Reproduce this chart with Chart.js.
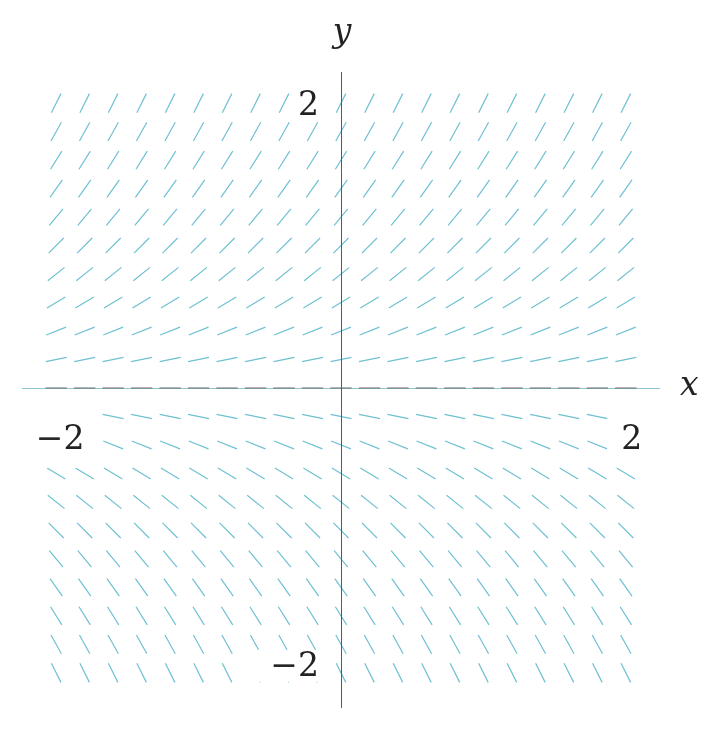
<!DOCTYPE html>
<html>
<head>
<meta charset="utf-8">
<script src="https://cdn.jsdelivr.net/npm/chart.js@4.4.1/dist/chart.umd.min.js"></script>
<style>
  body { margin: 0; background: #fff; }
  #wrap { width: 721px; height: 744px; }
</style>
</head>
<body>
<div id="wrap"><canvas id="field" width="721" height="744"></canvas></div>
<script>
// grid of the slope field
const xGrid = [-2.0, -1.8, -1.6, -1.4, -1.2, -1.0, -0.8, -0.6, -0.4, -0.2, 0.0,
               0.2, 0.4, 0.6, 0.8, 1.0, 1.2, 1.4, 1.6, 1.8, 2.0];
const yGrid = [2.0, 1.8, 1.6, 1.4, 1.2, 1.0, 0.8, 0.6, 0.4, 0.2, 0.0,
               -0.2, -0.4, -0.6, -0.8, -1.0, -1.2, -1.4, -1.6, -1.8, -2.0];
// slope read for each row (same along a row)
const rowSlopes = [2.0, 1.8, 1.6, 1.4, 1.2, 1.0, 0.8, 0.6, 0.4, 0.2, 0.0,
                   -0.2, -0.4, -0.6, -0.8, -1.0, -1.2, -1.4, -1.6, -1.8, -2.0];
const segLen = 0.15;

const xTicks = [-2, 2];
const yTicks = [-2, 2];

function buildSegments(rowFilter) {
    const pts = [];
    yGrid.forEach((y, j) => {
        if (!rowFilter(y)) return;
        const m = rowSlopes[j];
        const h = segLen / 2 / Math.sqrt(1 + m * m);
        xGrid.forEach(x => {
            pts.push({ x: x - h, y: y - m * h });
            pts.push({ x: x + h, y: y + m * h });
            pts.push({ x: x, y: null });
        });
    });
    return pts;
}

const fieldColor = 'rgb(110,192,210)';
const axisColor = '#5a5a5a';
const serif = '"DejaVu Serif", serif';
const labelFont = '33px ' + serif;
const italicFont = 'italic 33px ' + serif;

const axesPlugin = {
    id: 'axesAndLabels',
    beforeDatasetsDraw(chart) {
        const { ctx, scales: { x, y } } = chart;
        const y0 = y.getPixelForValue(0);
        ctx.save();
        ctx.strokeStyle = 'rgb(140,196,210)';
        ctx.lineWidth = 1;
        ctx.beginPath();
        ctx.moveTo(x.getPixelForValue(x.min), y0 + 0.5);
        ctx.lineTo(x.getPixelForValue(x.max), y0 + 0.5);
        ctx.stroke();
        ctx.restore();
    },
    afterDatasetsDraw(chart) {
        const { ctx, scales: { x, y } } = chart;
        const x0 = x.getPixelForValue(0);
        const y0 = y.getPixelForValue(0);
        ctx.save();
        ctx.font = labelFont;
        ctx.textBaseline = 'middle';

        // tick label with a white box that hides the marks under it
        function label(text, cx, cy, align, padL, padR, padY) {
            ctx.textAlign = align;
            const w = ctx.measureText(text).width;
            let left = cx;
            if (align === 'center') left = cx - w / 2;
            if (align === 'right') left = cx - w;
            ctx.fillStyle = '#fff';
            ctx.fillRect(left - padL, cy - padY, w + padL + padR, padY * 2);
            ctx.fillStyle = '#222';
            ctx.fillText(text, cx, cy + 2);
        }

        xTicks.forEach(v => {
            const t = v < 0 ? '\u2212' + Math.abs(v) : String(v);
            label(t, x.getPixelForValue(v) + (v < 0 ? 4 : 6), y0 + 50, 'center', 14, 12, 30);
        });
        yTicks.forEach(v => {
            const t = v < 0 ? '\u2212' + Math.abs(v) : String(v);
            if (v < 0) label(t, x0 - 22, y.getPixelForValue(v) - 7, 'right', 20, 4, 16);
            else label(t, x0 - 22, y.getPixelForValue(v) + 1, 'right', 3, 4, 14);
        });

        // y axis on top of the field
        ctx.strokeStyle = axisColor;
        ctx.lineWidth = 1;
        ctx.beginPath();
        ctx.moveTo(x0 + 0.5, y.getPixelForValue(y.max) + 3);
        ctx.lineTo(x0 + 0.5, y.getPixelForValue(y.min) + 1);
        ctx.stroke();

        ctx.font = italicFont;
        ctx.fillStyle = '#222';
        ctx.textAlign = 'center';
        ctx.fillText('y', x0 + 1, 33);
        ctx.textAlign = 'left';
        ctx.fillText('x', x.getPixelForValue(x.max) + 20, y0 - 2);
        ctx.restore();
    }
};

new Chart(document.getElementById('field'), {
    type: 'scatter',
    data: {
        datasets: [
            {
                data: buildSegments(v => v !== 0),
                showLine: true,
                spanGaps: false,
                borderColor: fieldColor,
                borderWidth: 1.2,
                pointRadius: 0
            },
            {
                data: buildSegments(v => v === 0),
                showLine: true,
                spanGaps: false,
                borderColor: '#6a6a6a',
                borderWidth: 1.2,
                pointRadius: 0
            }
        ]
    },
    options: {
        responsive: false,
        animation: false,
        layout: { padding: { left: 22, right: 61, top: 69, bottom: 37 } },
        plugins: { legend: { display: false }, tooltip: { enabled: false } },
        scales: {
            x: { type: 'linear', min: -2.24, max: 2.24, display: false },
            y: { type: 'linear', min: -2.24, max: 2.24, display: false }
        }
    },
    plugins: [axesPlugin]
});
</script>
</body>
</html>
